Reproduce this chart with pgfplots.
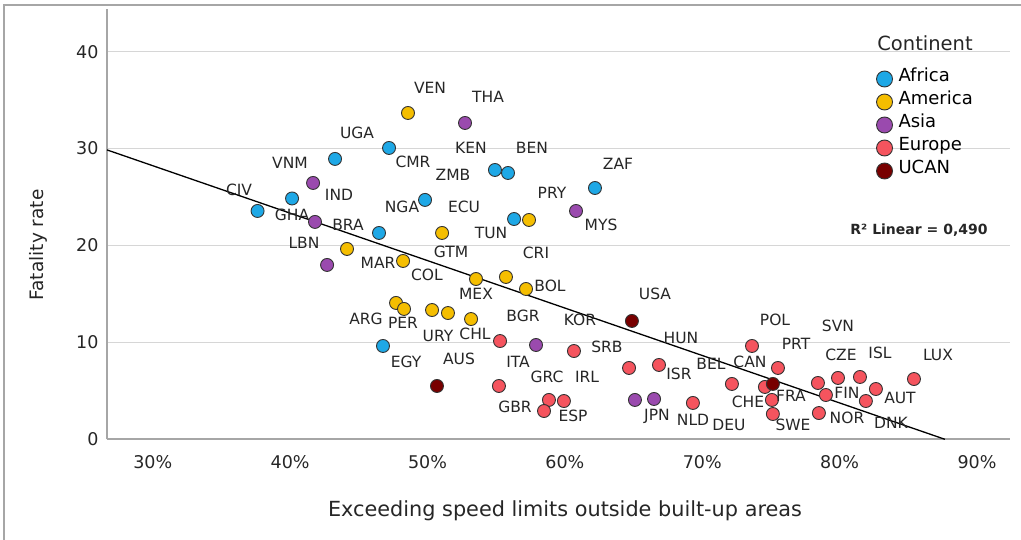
\documentclass[border=0pt]{standalone}
\usepackage{pgfplots}
\pgfplotsset{compat=1.18}
\usepackage{fontspec}
\setmainfont{DejaVu Sans}
\definecolor{cAf}{HTML}{1EA8E6}
\definecolor{cAm}{HTML}{F5BE00}
\definecolor{cAs}{HTML}{9A4AAE}
\definecolor{cEu}{HTML}{F5545E}
\definecolor{cUC}{HTML}{780000}
\definecolor{gridc}{HTML}{D6D6D6}
\definecolor{axc}{HTML}{A6A6A6}
\pgfplotsset{dot/.style={only marks, mark=*, mark size=6.5pt, mark options={draw=black!80, line width=0.9pt, fill=#1}}}
\begin{document}
\begin{tikzpicture}
\path[use as bounding box] (0,0) rectangle (1021pt,540pt);
\draw[axc, line width=1.5pt] (4pt,0pt) -- (4pt,535pt) -- (1021pt,535pt);
\begin{axis}[
  at={(107pt,100.7pt)}, anchor=south west, scale only axis,
  width=903pt, height=430.3pt,
  xmin=26.67, xmax=92.4, ymin=0, ymax=44.4,
  axis lines=left, axis line style={-, draw=axc, line width=1.6pt},
  xtick={30,40,...,90}, ytick={0,10,...,40},
  xticklabel={\pgfmathprintnumber{\tick}\%},
  major tick length=0pt,
  ymajorgrids, grid style={gridc, line width=1.3pt},
  tick label style={font=\fontsize{17.5}{20}\selectfont, text=black!85},
  /pgf/number format/assume math mode=true,
  yticklabel style={xshift=-5pt},
  xticklabel style={yshift=-13pt},
  clip=false,
  legend style={at={(0.8522,0.8559)}, anchor=north west, draw=none, fill=none,
    inner sep=0pt, outer sep=0pt, row sep=7pt, column sep=6pt,
    font=\fontsize{18}{18}\selectfont,
    nodes={inner sep=0pt, text height=0.75em, text depth=0.25em, anchor=west}},
  legend cell align=left,
  legend image code/.code={\draw[#1, mark size=8pt] plot coordinates {(8.5pt,0pt)};},
]
\addplot[dot=cAf] coordinates {
(37.63,23.56) (40.14,24.85) (43.27,28.93) (47.20,30.06) (49.82,24.70)
(46.47,21.29) (54.91,27.79) (55.86,27.48) (56.30,22.73) (62.19,25.93)
(46.76,9.63)};
\addlegendentry{Africa}
\addplot[dot=cAm] coordinates {
(48.58,33.67) (51.06,21.29) (57.39,22.63) (44.14,19.64) (48.22,18.40)
(53.53,16.54) (55.71,16.75) (57.17,15.51) (47.71,14.07) (48.29,13.45)
(50.33,13.34) (51.49,13.03) (53.17,12.41)};
\addlegendentry{America}
\addplot[dot=cAs] coordinates {
(52.73,32.64) (41.67,26.45) (41.81,22.43) (42.69,17.99) (60.81,23.56)
(57.90,9.73) (65.10,4.06) (66.49,4.16)};
\addlegendentry{Asia}
\addplot[dot=cEu] coordinates {
(55.28,10.14) (60.66,9.11) (55.20,5.50) (58.84,4.06) (58.48,2.92)
(59.93,3.95) (64.67,7.36) (66.85,7.67) (69.32,3.75) (72.16,5.71)
(73.62,9.63) (75.51,7.36) (74.56,5.40) (75.07,4.06) (75.14,2.61)
(78.49,2.71) (78.42,5.81) (79.00,4.57) (79.88,6.33) (81.48,6.43)
(82.64,5.19) (81.91,3.95) (85.41,6.22)};
\addlegendentry{Europe}
\addplot[dot=cUC] coordinates {
(64.88,12.21) (50.69,5.50) (75.14,5.71)};
\addlegendentry{UCAN}
\addplot[black, line width=1.3pt, no marks, forget plot] coordinates {(26.67,29.86) (87.66,0)};
\end{axis}
\begin{scope}[font=\fontsize{15.5}{16}\selectfont, text=black!85]
\node at (430pt,452pt) {VEN};
\node at (488pt,443pt) {THA};
\node at (357pt,407pt) {UGA};
\node at (471pt,392pt) {KEN};
\node at (532pt,392pt) {BEN};
\node at (618pt,376pt) {ZAF};
\node at (290pt,377pt) {VNM};
\node at (413pt,378pt) {CMR};
\node at (453pt,365pt) {ZMB};
\node at (339pt,345pt) {IND};
\node at (239pt,350pt) {CIV};
\node at (292pt,325pt) {GHA};
\node at (348pt,315pt) {BRA};
\node at (402pt,333pt) {NGA};
\node at (464pt,333pt) {ECU};
\node at (552pt,347pt) {PRY};
\node at (601pt,315pt) {MYS};
\node at (491pt,307pt) {TUN};
\node at (304pt,297pt) {LBN};
\node at (451pt,288pt) {GTM};
\node at (536pt,287pt) {CRI};
\node at (378pt,277pt) {MAR};
\node at (427pt,265pt) {COL};
\node at (476pt,246pt) {MEX};
\node at (550pt,254pt) {BOL};
\node at (655pt,246pt) {USA};
\node at (366pt,221pt) {ARG};
\node at (403pt,217pt) {PER};
\node at (523pt,224pt) {BGR};
\node at (580pt,220pt) {KOR};
\node at (775pt,220pt) {POL};
\node at (838pt,214pt) {SVN};
\node at (438pt,204pt) {URY};
\node at (475pt,206pt) {CHL};
\node at (681pt,202pt) {HUN};
\node at (796pt,196pt) {PRT};
\node at (607pt,193pt) {SRB};
\node at (750pt,178pt) {CAN};
\node at (711pt,176pt) {BEL};
\node at (518pt,178pt) {ITA};
\node at (587pt,163pt) {IRL};
\node at (547pt,163pt) {GRC};
\node at (406pt,178pt) {EGY};
\node at (459pt,181pt) {AUS};
\node at (841pt,185pt) {CZE};
\node at (880pt,187pt) {ISL};
\node at (938pt,185pt) {LUX};
\node at (679pt,166pt) {ISR};
\node at (847pt,147pt) {FIN};
\node at (791pt,144pt) {FRA};
\node at (900pt,142pt) {AUT};
\node at (748pt,138pt) {CHE};
\node at (515pt,133pt) {GBR};
\node at (573pt,124pt) {ESP};
\node at (657pt,124pt) {JPN};
\node at (693pt,120pt) {NLD};
\node at (729pt,115pt) {DEU};
\node at (793pt,115pt) {SWE};
\node at (847pt,122pt) {NOR};
\node at (891pt,117pt) {DNK};
\end{scope}
\node[font=\bfseries\fontsize{14}{15}\selectfont, text=black!85] at (919pt,310pt) {R² Linear = 0,490};
\node[font=\fontsize{19.5}{20}\selectfont, text=black!85] at (925pt,497pt) {Continent};
\node[rotate=90, font=\fontsize{18.5}{20}\selectfont, text=black!85] at (38pt,295pt) {Fatality rate};
\node[font=\fontsize{20.8}{22}\selectfont, text=black!85] at (565pt,29pt) {Exceeding speed limits outside built-up areas};
\end{tikzpicture}
\end{document}
